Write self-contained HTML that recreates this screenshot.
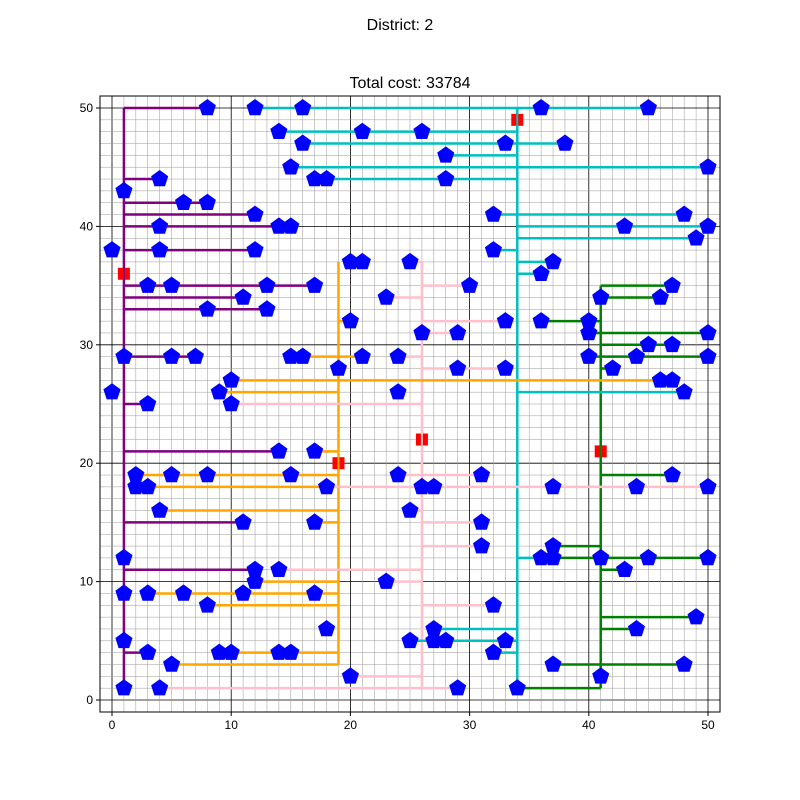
<!DOCTYPE html>
<html><head><meta charset="utf-8"><style>
body{margin:0;background:#fff;font-family:"Liberation Sans",sans-serif}
svg{display:block}
</style></head><body>
<svg id="c" width="800" height="800" xmlns="http://www.w3.org/2000/svg">
<text x="400" y="30" font-size="16" text-anchor="middle" font-family="Liberation Sans">District: 2</text>
<text x="410" y="88" font-size="16" text-anchor="middle" font-family="Liberation Sans">Total cost: 33784</text>
</svg>
<script>
const customersX=[8,12,16,36,45,14,21,26,33,38,16,28,15,50,17,18,28,4,1,6,8,12,32,48,4,14,15,43,50,49,0,4,12,32,20,21,25,37,36,3,5,13,17,30,47,11,23,41,46,8,13,20,33,36,40,26,29,40,50,45,47,1,5,7,15,16,21,24,40,44,50,19,29,33,42,10,46,47,0,9,24,48,3,10,14,17,2,5,8,15,24,31,47,2,3,18,26,27,37,44,50,4,25,11,17,31,37,31,1,36,37,41,45,50,12,14,43,12,23,1,3,6,11,17,8,32,49,18,27,44,1,25,27,28,33,3,9,10,14,15,32,5,37,48,20,41,1,4,29,34];
const customersY=[50,50,50,50,50,48,48,48,47,47,47,46,45,45,44,44,44,44,43,42,42,41,41,41,40,40,40,40,40,39,38,38,38,38,37,37,37,37,36,35,35,35,35,35,35,34,34,34,34,33,33,32,32,32,32,31,31,31,31,30,30,29,29,29,29,29,29,29,29,29,29,28,28,28,28,27,27,27,26,26,26,26,25,25,21,21,19,19,19,19,19,19,19,18,18,18,18,18,18,18,18,16,16,15,15,15,13,13,12,12,12,12,12,12,11,11,11,10,10,9,9,9,9,9,8,8,7,6,6,6,5,5,5,5,5,4,4,4,4,4,4,3,3,3,2,2,1,1,1,1];
const facilityX=[1,19,26,34,41];
const facilityY=[36,20,22,49,21];
const facilityColors=["#800080","#ffa500","#ffc0cb","#00bfbf","#008000"];
const trunkY0=[1,3,1,1,1];
const trunkY1=[50,37,37,50,35];
// branches: [facility index, y, x-from, x-to]
const branchF=[0,0,0,0,0,0,0,0,0,0,0,0,0,0,0, 1,1,1,1,1,1,1,1,1,1,1,1,1,1,1, 2,2,2,2,2,2,2,2,2,2,2,2,2,2,2,2,2,2,2,2, 3,3,3,3,3,3,3,3,3,3,3,3,3,3,3,3,3, 4,4,4,4,4,4,4,4,4,4,4,4,4,4,4];
const branchY=[50,44,42,41,40,38,35,34,33,29,25,21,15,11,4, 29,27,26,21,19,18,16,15,10,9,8,4,3,32,28, 37,35,34,32,31,29,28,25,19,18,16,15,13,11,10,8,2,1,21,22, 50,48,47,46,45,44,41,40,39,38,37,36,26,12,6,5,4, 35,34,32,31,30,29,28,19,13,12,11,7,6,3,1];
const branchX0=[1,1,1,1,1,1,1,1,1,1,1,1,1,1,1, 15,10,9,17,2,2,4,17,12,3,8,9,5,19,19, 25,26,23,26,26,24,26,10,24,18,25,26,26,14,23,26,20,4,26,26, 12,14,16,28,15,17,32,34,34,32,34,34,34,34,27,25,32, 41,41,36,40,41,40,41,41,37,36,41,41,41,37,34];
const branchX1=[8,4,8,12,15,12,17,11,13,7,3,14,11,12,3, 21,47,19,19,19,19,19,19,19,19,19,19,19,20,19, 26,30,26,33,29,26,33,26,31,50,26,31,31,26,26,32,26,29,26,26, 45,34,38,34,50,34,48,50,49,34,37,36,48,36,34,34,34, 47,46,41,50,47,50,42,47,41,50,43,49,44,48,41];
const xTicks=[0,10,20,30,40,50];
const yTicks=[0,10,20,30,40,50];
const NS="http://www.w3.org/2000/svg";
const svg=document.getElementById('c');
const L=100,R=720,T=96,B=712;
function sx(v){return 112+v*(708-112)/50;}
function sy(v){return 700-v*(700-108)/50;}
function mk(tag,a){const e=document.createElementNS(NS,tag);for(const k in a)e.setAttribute(k,a[k]);svg.appendChild(e);return e;}
// grid
for(let v=-1;v<=51;v++){
  const major=v%10===0;
  if(sx(v)>=L&&sx(v)<=R){const g=mk('line',{x1:sx(v),x2:sx(v),y1:T,y2:B,stroke:major?'#000':'#999','stroke-width':major?0.8:0.5});
  
  }
  if(sy(v)>=T&&sy(v)<=B){const g=mk('line',{x1:L,x2:R,y1:sy(v),y2:sy(v),stroke:major?'#000':'#999','stroke-width':major?0.8:0.5});
  
  }
}
// trunks
for(let i=0;i<facilityX.length;i++){
  const t=mk('line',{x1:sx(facilityX[i]),x2:sx(facilityX[i]),y1:sy(trunkY0[i]),y2:sy(trunkY1[i]),stroke:facilityColors[i],'stroke-width':2.5});
  
  
}
for(let i=0;i<branchF.length;i++){
  const b=mk('line',{x1:sx(branchX0[i]),x2:sx(branchX1[i]),y1:sy(branchY[i]),y2:sy(branchY[i]),stroke:facilityColors[branchF[i]],'stroke-width':2.5});
  
  
}
// customers
for(let i=0;i<customersX.length;i++){
  const cx=sx(customersX[i]),cy=sy(customersY[i]),r=9;let pts=[];
  for(let k=0;k<5;k++){const a=-Math.PI/2+k*2*Math.PI/5;pts.push((cx+r*Math.cos(a)).toFixed(1)+','+(cy+r*Math.sin(a)).toFixed(1));}
  const p=mk('polygon',{points:pts.join(' '),fill:'#0000ff'});
  
  
}
// facilities
for(let i=0;i<facilityX.length;i++){
  const cx=sx(facilityX[i]),cy=sy(facilityY[i]);
  const f1=mk('rect',{x:cx-6,y:cy-6,width:5,height:12,fill:'#ff0000'});
  
  
  const f2=mk('rect',{x:cx+1,y:cy-6,width:5,height:12,fill:'#ff0000'});
  
  
}
// frame
const fr=mk('rect',{x:L,y:T,width:R-L,height:B-T,fill:'none',stroke:'#000','stroke-width':1});


xTicks.forEach(v=>{
  mk('line',{x1:sx(v),x2:sx(v),y1:B,y2:B+4,stroke:'#000'});
  const t=mk('text',{x:sx(v),y:B+17,'font-size':12,'text-anchor':'middle','font-family':'Liberation Sans'});t.textContent=v;
  
  
});
yTicks.forEach(v=>{
  mk('line',{x1:L-4,x2:L,y1:sy(v),y2:sy(v),stroke:'#000'});
  const t=mk('text',{x:L-7,y:sy(v)+4,'font-size':12,'text-anchor':'end','font-family':'Liberation Sans'});t.textContent=v;
  
  
});
</script>
</body></html>
